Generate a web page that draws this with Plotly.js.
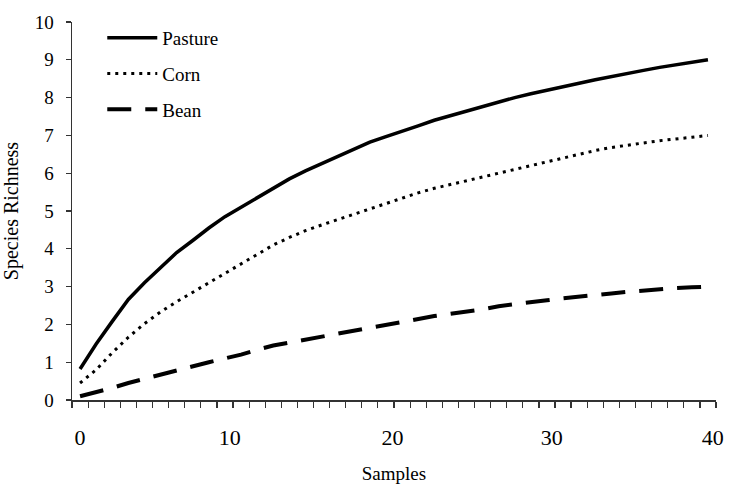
<!DOCTYPE html>
<html>
<head>
<meta charset="utf-8">
<script src="https://cdn.plot.ly/plotly-3.0.1.min.js"></script>
<style>html,body{margin:0;padding:0;background:#fff;}#chart{width:730px;height:488px;}</style>
</head>
<body>
<div id="chart"></div>
<script>
// sample index (category positions 0..39 for samples 1..40)
var samples = [0,1,2,3,4,5,6,7,8,9,10,11,12,13,14,15,16,17,18,19,20,21,22,23,24,25,26,27,28,29,30,31,32,33,34,35,36,37,38,39];
var pasture = [0.82,1.48,2.08,2.66,3.1,3.5,3.9,4.22,4.55,4.85,5.1,5.37,5.62,5.85,6.06,6.25,6.46,6.64,6.82,6.97,7.1,7.25,7.4,7.52,7.64,7.78,7.9,8.0,8.1,8.2,8.28,8.38,8.47,8.56,8.64,8.72,8.8,8.87,8.94,9.0];
var corn = [0.45,0.8,1.25,1.66,2.02,2.33,2.6,2.85,3.1,3.35,3.58,3.84,4.1,4.3,4.48,4.63,4.77,4.92,5.06,5.2,5.33,5.48,5.6,5.7,5.8,5.92,6.02,6.12,6.22,6.32,6.42,6.52,6.6,6.68,6.75,6.8,6.86,6.9,6.95,7.0];
var bean = [0.1,0.2,0.32,0.45,0.56,0.68,0.8,0.9,1.0,1.1,1.2,1.33,1.44,1.52,1.6,1.68,1.76,1.84,1.92,1.99,2.06,2.14,2.22,2.28,2.33,2.4,2.48,2.54,2.6,2.64,2.69,2.74,2.78,2.82,2.86,2.9,2.93,2.96,2.98,3.0];
var xTickVals = [0, 9.3, 19.4, 29.3, 39.3];
var xTickText = ['0','10','20','30','40'];
var yTickVals = [0,1,2,3,4,5,6,7,8,9,10];

var font = 'Liberation Serif, Times New Roman, serif';
var traces = [
  {x: samples, y: pasture, name: 'Pasture', type: 'scatter', mode: 'lines', legendgroup: 'a',
   line: {color: '#000', width: 3.5}},
  {x: samples, y: corn, name: 'Corn', type: 'scatter', mode: 'lines', legendgroup: 'b',
   line: {color: '#000', width: 3, dash: '3px,5px'}},
  {x: samples, y: bean, name: 'Bean', type: 'scatter', mode: 'lines', legendgroup: 'c',
   line: {color: '#000', width: 4, dash: '24px,14px'}}
];
var layout = {
  width: 730, height: 488,
  margin: {l: 72, r: 14, t: 22, b: 88},
  paper_bgcolor: '#fff', plot_bgcolor: '#fff',
  font: {family: font, color: '#000', size: 19},
  showlegend: true,
  legend: {x: 0.047, y: 1.008, xanchor: 'left', yanchor: 'top', bgcolor: 'rgba(0,0,0,0)',
           font: {family: font, size: 19, color: '#000'}, tracegroupgap: 8, itemwidth: 50,
           traceorder: 'grouped'},
  xaxis: {
    range: [-0.5, 39.5], showgrid: false, zeroline: false,
    showline: true, linecolor: '#333', linewidth: 1.5,
    tickmode: 'array', tickvals: xTickVals, ticktext: xTickText,
    ticks: '', ticklabelstandoff: 17,
    tickfont: {family: font, size: 22, color: '#000'},
    minor: {tick0: -0.5, dtick: 1, ticks: 'outside', ticklen: 6, tickcolor: '#333', tickwidth: 1.2, showgrid: false},
    title: {text: 'Samples', font: {family: font, size: 19, color: '#000'}, standoff: 18}
  },
  yaxis: {
    range: [0, 10], showgrid: false, zeroline: false,
    showline: true, linecolor: '#333', linewidth: 1.5,
    tickmode: 'array', tickvals: yTickVals,
    ticks: 'outside', ticklen: 5, tickcolor: '#333', tickwidth: 1.2,
    ticklabelstandoff: 8,
    tickfont: {family: font, size: 19, color: '#000'},
    title: {text: 'Species Richness', font: {family: font, size: 20, color: '#000'}, standoff: 14}
  }
};
Plotly.newPlot('chart', traces, layout, {displayModeBar: false, staticPlot: true});
</script>
</body>
</html>
